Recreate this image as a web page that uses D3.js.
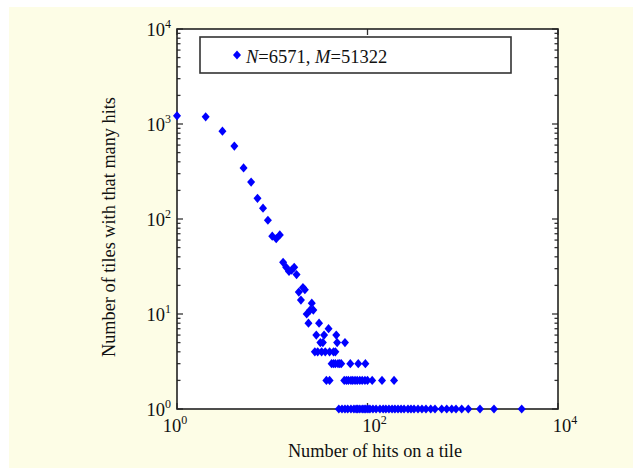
<!DOCTYPE html>
<html>
<head>
<meta charset="utf-8">
<script src="https://cdn.jsdelivr.net/npm/d3@7"></script>
<style>
  html, body { margin: 0; padding: 0; background: #ffffff; }
  svg { display: block; font-family: "Liberation Serif", "Times New Roman", serif; }
</style>
</head>
<body>
<svg id="chart" width="643" height="470"></svg>
<script>
// head of the distribution: one point per hit count
const headHits  = [1, 2, 3, 4, 5, 6, 7, 8, 9, 10, 11, 12, 13, 14, 15, 16, 17, 18, 19, 20, 21, 22, 23, 24, 25, 26, 27, 31, 39];
const headTiles = [1220, 1190, 840, 585, 345, 245, 165, 130, 97, 66, 62, 68, 35, 31, 28, 29, 31, 26, 17, 14, 19, 18, 10, 8, 11, 13, 11, 8, 7];

// tail: rows of points sharing the same tile count
const hitsWith6 = [29, 35, 47];
const hitsWith5 = [32, 34, 48, 58];
const hitsWith4 = [28, 30, 33, 36, 40, 44, 46];
const hitsWith3 = [42, 44, 46, 49, 51, 53, 66, 80, 95];
const hitsWith2 = [37, 40, 57, 60, 63, 67, 70, 74, 78, 83, 88, 94, 100, 112, 142, 190];
const hitsWith1 = [50, 54, 58, 62, 67, 72, 76, 79, 83, 88, 92, 96, 101, 106, 114, 123, 135, 146, 156,
                   168, 181, 194, 209, 225, 242, 266, 286, 308, 339, 373, 411, 461, 511, 601, 679,
                   766, 849, 975, 1143, 1517, 2128, 4158];

const xExponents = [0, 2, 4];
const yExponents = [0, 1, 2, 3, 4];
const legendLabel = [["N", true], ["=6571, ", false], ["M", true], ["=51322", false]];

const points = headHits.map((h, i) => ({ hits: h, tiles: headTiles[i] }));
[[6, hitsWith6], [5, hitsWith5], [4, hitsWith4], [3, hitsWith3], [2, hitsWith2], [1, hitsWith1]]
  .forEach(([count, row]) => row.forEach(h => points.push({ hits: h, tiles: count })));

const svg = d3.select("#chart");
const W = 643, H = 470;
const margin = { left: 177, right: 85, top: 29, bottom: 61 };
const plotW = W - margin.left - margin.right;
const plotH = H - margin.top - margin.bottom;

// cream panel
svg.append("rect").attr("x", 9).attr("y", 7).attr("width", 624).attr("height", 461).attr("fill", "#fdfde6");

const g = svg.append("g").attr("transform", `translate(${margin.left},${margin.top})`);

const x = d3.scaleLog().domain([1, 1e4]).range([0, plotW]);
const y = d3.scaleLog().domain([1, 1e4]).range([plotH, 0]);

g.append("rect").attr("width", plotW).attr("height", plotH).attr("fill", "#ffffff");

// y ticks: all 1..9 per decade, majors longer
const yTicks = [];
yExponents.slice(0, -1).forEach(e => { for (let k = 1; k < 10; k++) yTicks.push(k * Math.pow(10, e)); });
yTicks.push(1e4);
const isMajor = v => Math.abs(Math.log10(v) - Math.round(Math.log10(v))) < 1e-9;

const tickColor = "#333";
yTicks.forEach(v => {
  const len = isMajor(v) ? 6 : 3.5;
  g.append("line").attr("x1", 0).attr("x2", len).attr("y1", y(v)).attr("y2", y(v))
    .attr("stroke", tickColor).attr("stroke-width", 1.3);
  g.append("line").attr("x1", plotW).attr("x2", plotW - len).attr("y1", y(v)).attr("y2", y(v))
    .attr("stroke", tickColor).attr("stroke-width", 1.3);
});
xExponents.forEach(e => {
  const v = Math.pow(10, e);
  g.append("line").attr("x1", x(v)).attr("x2", x(v)).attr("y1", plotH).attr("y2", plotH - 6)
    .attr("stroke", tickColor).attr("stroke-width", 1.3);
  g.append("line").attr("x1", x(v)).attr("x2", x(v)).attr("y1", 0).attr("y2", 6)
    .attr("stroke", tickColor).attr("stroke-width", 1.3);
});

// tick labels with superscript exponents
function powerLabel(sel, e) {
  sel.append("tspan").text("10");
  sel.append("tspan").attr("dy", -8).attr("font-size", 12).text(e);
}
yExponents.forEach(e => {
  const t = g.append("text").attr("x", -6).attr("y", y(Math.pow(10, e)) + 7)
    .attr("text-anchor", "end").attr("font-size", 18.5).attr("fill", "#111");
  powerLabel(t, e);
});
xExponents.forEach((e, i) => {
  const t = g.append("text").attr("x", x(Math.pow(10, e)) + (i === 0 ? -2 : 7)).attr("y", plotH + 23)
    .attr("text-anchor", "middle").attr("font-size", 18.5).attr("fill", "#111");
  powerLabel(t, e);
});

// frame
g.append("rect").attr("width", plotW).attr("height", plotH)
  .attr("fill", "none").attr("stroke", "#222").attr("stroke-width", 1.6);

// markers (drawn over the frame, as in the original)
const diamond = "M0,-4.6L4,0L0,4.6L-4,0Z";
g.selectAll(".pt").data(points).join("path")
  .attr("class", "pt")
  .attr("d", diamond)
  .attr("transform", d => `translate(${x(d.hits)},${y(d.tiles)})`)
  .attr("fill", "#0000ff");

// legend
const legend = svg.append("g");
legend.append("rect").attr("x", 200).attr("y", 37).attr("width", 311).attr("height", 36)
  .attr("fill", "#ffffff").attr("stroke", "#333").attr("stroke-width", 1.6);
legend.append("path").attr("d", diamond).attr("transform", "translate(237,55)").attr("fill", "#0000ff");
const lt = legend.append("text").attr("x", 246).attr("y", 62.5).attr("font-size", 18.5).attr("fill", "#111");
legendLabel.forEach(([s, it]) => lt.append("tspan").attr("font-style", it ? "italic" : "normal").text(s));

// axis titles
svg.append("text").attr("x", 375).attr("y", 457).attr("text-anchor", "middle")
  .attr("font-size", 18.3).attr("fill", "#111").text("Number of hits on a tile");
svg.append("text").attr("transform", "translate(115,227) rotate(-90)").attr("text-anchor", "middle")
  .attr("font-size", 18.3).attr("fill", "#111").text("Number of tiles with that many hits");
</script>
</body>
</html>
